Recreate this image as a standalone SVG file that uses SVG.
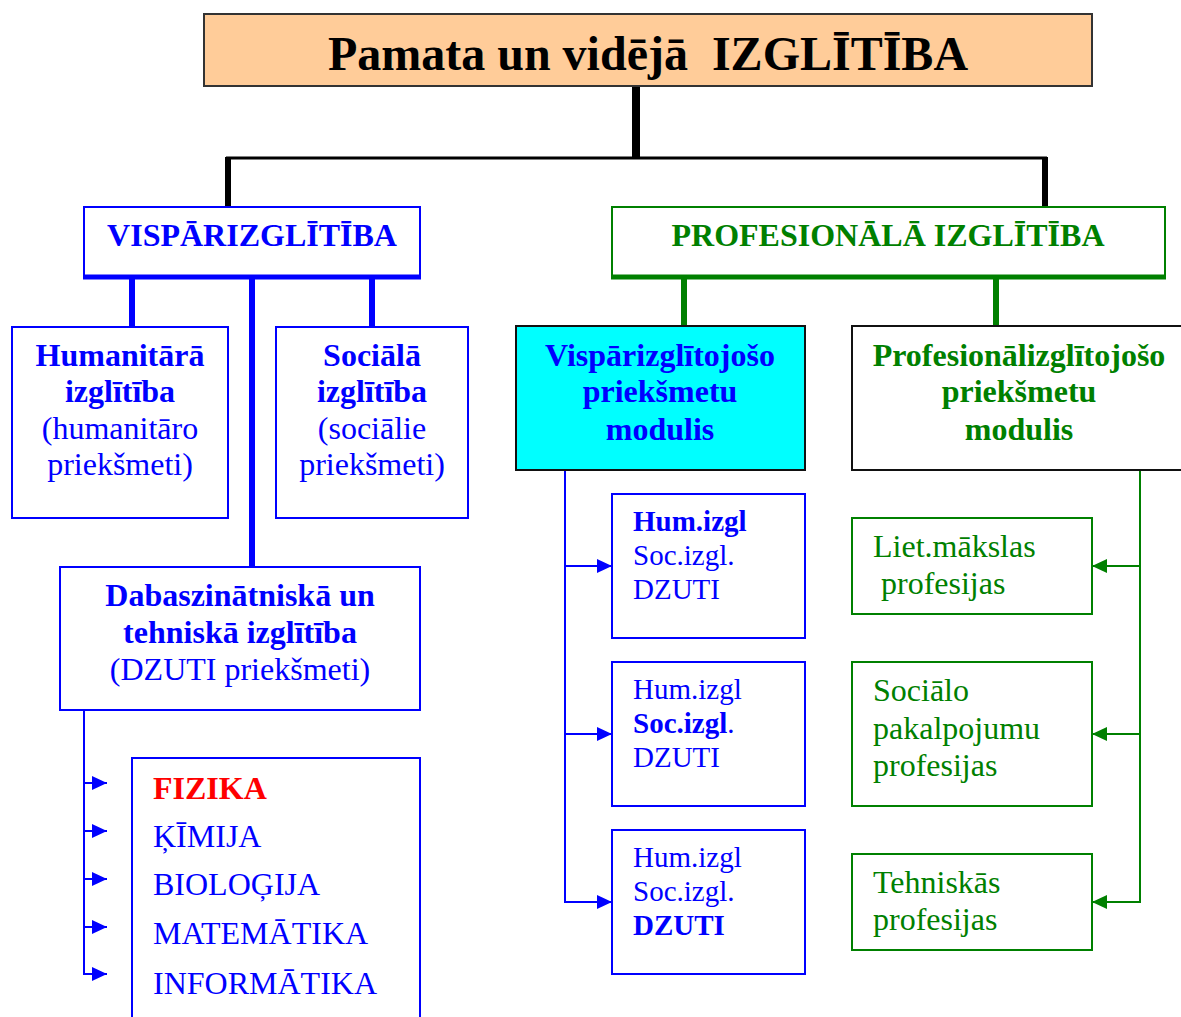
<svg xmlns="http://www.w3.org/2000/svg" width="1181" height="1017" viewBox="0 0 1181 1017">
<style>
text{font-family:"Liberation Serif","Times New Roman",serif;}
.b{font-weight:bold;}
.blue{fill:#0000FF;}
.green{fill:#008000;}
.c{text-anchor:middle;}
.f32{font-size:32px;}
.f29{font-size:29px;}
.bbox{fill:#fff;stroke:#0000FF;stroke-width:2;}
.gbox{fill:#fff;stroke:#008000;stroke-width:2;}
.kbox{stroke:#111;stroke-width:2;}
.bl{stroke:#0000FF;fill:none;}
.gl{stroke:#008000;fill:none;}
.kl{stroke:#000;fill:none;}
</style>
<defs>
<marker id="ab" markerUnits="userSpaceOnUse" markerWidth="16" markerHeight="14" refX="15" refY="7" orient="auto"><path d="M0,0 L15,7 L0,14 z" fill="#0000FF"/></marker>
<marker id="ag" markerUnits="userSpaceOnUse" markerWidth="16" markerHeight="14" refX="15" refY="7" orient="auto"><path d="M0,0 L15,7 L0,14 z" fill="#008000"/></marker>
</defs>
<rect width="1181" height="1017" fill="#fff"/>

<g id="connectors">
<line class="kl" x1="636" y1="86" x2="636" y2="158" stroke-width="8"/>
<line class="kl" x1="226" y1="158" x2="1047" y2="158" stroke-width="3"/>
<line class="kl" x1="228" y1="157" x2="228" y2="207" stroke-width="6"/>
<line class="kl" x1="1045" y1="157" x2="1045" y2="207" stroke-width="6"/>
<line class="bl" x1="132" y1="278" x2="132" y2="326" stroke-width="6"/>
<line class="bl" x1="252" y1="278" x2="252" y2="567" stroke-width="6"/>
<line class="bl" x1="372" y1="278" x2="372" y2="326" stroke-width="6"/>
<line class="gl" x1="684" y1="278" x2="684" y2="326" stroke-width="6"/>
<line class="gl" x1="996" y1="278" x2="996" y2="326" stroke-width="6"/>
<polyline class="bl" stroke-width="2" points="84,710 84,975"/>
<line class="bl" stroke-width="2" x1="84" y1="783" x2="107" y2="783" marker-end="url(#ab)"/>
<line class="bl" stroke-width="2" x1="84" y1="831" x2="107" y2="831" marker-end="url(#ab)"/>
<line class="bl" stroke-width="2" x1="84" y1="879" x2="107" y2="879" marker-end="url(#ab)"/>
<line class="bl" stroke-width="2" x1="84" y1="927" x2="107" y2="927" marker-end="url(#ab)"/>
<line class="bl" stroke-width="2" x1="83" y1="974" x2="107" y2="974" marker-end="url(#ab)"/>
<line class="bl" stroke-width="2" x1="565" y1="470" x2="565" y2="903"/>
<line class="bl" stroke-width="2" x1="565" y1="566" x2="612" y2="566" marker-end="url(#ab)"/>
<line class="bl" stroke-width="2" x1="565" y1="734" x2="612" y2="734" marker-end="url(#ab)"/>
<line class="bl" stroke-width="2" x1="564" y1="902" x2="612" y2="902" marker-end="url(#ab)"/>
<line class="gl" stroke-width="2" x1="1140" y1="470" x2="1140" y2="903"/>
<line class="gl" stroke-width="2" x1="1140" y1="566" x2="1092" y2="566" marker-end="url(#ag)"/>
<line class="gl" stroke-width="2" x1="1140" y1="734" x2="1092" y2="734" marker-end="url(#ag)"/>
<line class="gl" stroke-width="2" x1="1141" y1="902" x2="1092" y2="902" marker-end="url(#ag)"/>
</g>

<g id="n-top">
<rect x="204" y="14" width="888" height="72" fill="#FFCC99" stroke="#333" stroke-width="2"/>
<text x="648" y="70" class="b c" font-size="48" xml:space="preserve">Pamata un vidējā  IZGLĪTĪBA</text>
</g>

<g id="n-visp">
<rect x="84" y="207" width="336" height="70" class="bbox"/>
<line x1="83" y1="277" x2="421" y2="277" stroke="#0000FF" stroke-width="5"/>
<text x="252" y="246" class="b c blue f32">VISPĀRIZGLĪTĪBA</text>
</g>

<g id="n-prof">
<rect x="612" y="207" width="553" height="70" class="gbox"/>
<line x1="611" y1="277" x2="1166" y2="277" stroke="#008000" stroke-width="5"/>
<text x="888" y="246" class="b c green f32">PROFESIONĀLĀ IZGLĪTĪBA</text>
</g>

<g id="n-hum">
<rect x="12" y="327" width="216" height="191" class="bbox"/>
<text x="120" y="366" class="b c blue f32">Humanitārā</text>
<text x="120" y="402" class="b c blue f32">izglītība</text>
<text x="120" y="439" class="c blue f32">(humanitāro</text>
<text x="120" y="475" class="c blue f32">priekšmeti)</text>
</g>

<g id="n-soc">
<rect x="276" y="327" width="192" height="191" class="bbox"/>
<text x="372" y="366" class="b c blue f32">Sociālā</text>
<text x="372" y="402" class="b c blue f32">izglītība</text>
<text x="372" y="439" class="c blue f32">(sociālie</text>
<text x="372" y="475" class="c blue f32">priekšmeti)</text>
</g>

<g id="n-dab">
<rect x="60" y="567" width="360" height="143" class="bbox"/>
<text x="240" y="606" class="b c blue f32">Dabaszinātniskā un</text>
<text x="240" y="643" class="b c blue f32">tehniskā izglītība</text>
<text x="240" y="680" class="c blue f32">(DZUTI priekšmeti)</text>
</g>

<g id="n-subjects">
<polyline points="132,1017 132,758 420,758 420,1017" class="bl" stroke-width="2"/>
<text x="153" y="799" class="b f32" fill="#FF0000">FIZIKA</text>
<text x="153" y="847" class="blue f32">ĶĪMIJA</text>
<text x="153" y="895" class="blue f32">BIOLOĢIJA</text>
<text x="153" y="944" class="blue f32">MATEMĀTIKA</text>
<text x="153" y="994" class="blue f32">INFORMĀTIKA</text>
</g>

<g id="n-vmod">
<rect x="516" y="326" width="289" height="144" fill="#00FFFF" class="kbox"/>
<text x="660" y="366" class="b c blue f32">Vispārizglītojošo</text>
<text x="660" y="402" class="b c blue f32">priekšmetu</text>
<text x="660" y="440" class="b c blue f32">modulis</text>
</g>

<g id="n-pmod">
<rect x="852" y="326" width="340" height="144" fill="#fff" class="kbox"/>
<text x="1019" y="366" class="b c green f32">Profesionālizglītojošo</text>
<text x="1019" y="402" class="b c green f32">priekšmetu</text>
<text x="1019" y="440" class="b c green f32">modulis</text>
</g>

<g id="n-v1">
<rect x="612" y="494" width="193" height="144" class="bbox"/>
<text x="633" y="531" class="b blue f29">Hum.izgl</text>
<text x="633" y="565" class="blue f29">Soc.izgl.</text>
<text x="633" y="599" class="blue f29">DZUTI</text>
</g>

<g id="n-v2">
<rect x="612" y="662" width="193" height="144" class="bbox"/>
<text x="633" y="699" class="blue f29">Hum.izgl</text>
<text x="633" y="733" class="blue f29"><tspan class="b">Soc.izgl</tspan>.</text>
<text x="633" y="767" class="blue f29">DZUTI</text>
</g>

<g id="n-v3">
<rect x="612" y="830" width="193" height="144" class="bbox"/>
<text x="633" y="867" class="blue f29">Hum.izgl</text>
<text x="633" y="901" class="blue f29">Soc.izgl.</text>
<text x="633" y="935" class="b blue f29">DZUTI</text>
</g>

<g id="n-p1">
<rect x="852" y="518" width="240" height="96" class="gbox"/>
<text x="873" y="557" class="green f32">Liet.mākslas</text>
<text x="881" y="594" class="green f32">profesijas</text>
</g>

<g id="n-p2">
<rect x="852" y="662" width="240" height="144" class="gbox"/>
<text x="873" y="701" class="green f32">Sociālo</text>
<text x="873" y="739" class="green f32">pakalpojumu</text>
<text x="873" y="776" class="green f32">profesijas</text>
</g>

<g id="n-p3">
<rect x="852" y="854" width="240" height="96" class="gbox"/>
<text x="873" y="893" class="green f32">Tehniskās</text>
<text x="873" y="930" class="green f32">profesijas</text>
</g>
</svg>
